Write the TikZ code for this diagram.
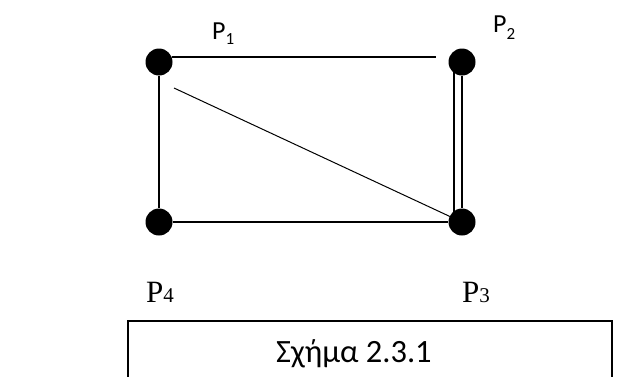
\documentclass[tikz,border=0pt]{standalone}
\usepackage{fontspec}
\setmainfont{Liberation Serif}
\newfontfamily\calibri{Carlito}
\begin{document}
\begin{tikzpicture}[x=1pt,y=-1pt,
  vertex/.style={circle,fill=black,inner sep=0pt,minimum size=27pt},
  edge/.style={line width=2pt},
  thinedge/.style={line width=1pt},
  sanslabel/.style={anchor=base west,inner sep=0pt,font=\calibri\fontsize{26}{28}\selectfont},
  seriflabel/.style={anchor=base west,inner sep=0pt,font=\fontsize{31}{33}\selectfont},
  framebox/.style={line width=1.2pt}]
\useasboundingbox (0,0) rectangle (640,376);
% vertices
\node[vertex] (p1) at (159,62) {};
\node[vertex] (p2) at (462,62) {};
\node[vertex] (p3) at (462,222) {};
\node[vertex] (p4) at (159,222) {};
% helper coordinates
\coordinate (topstart) at (172,57);
\coordinate (topend) at (436,57);
\coordinate (diagstart) at (174,88);
\coordinate (diagend) at (451,217);
\coordinate (dblA) at (453.5,72);
\coordinate (dblB) at (453.5,214);
% edges
\draw[edge] (topstart) -- (topend);
\draw[edge] (p1) -- (p4);
\draw[edge] (p4) -- (p3);
\draw[thinedge] (diagstart) -- (diagend);
\draw[edge] (p2) -- (p3);
\draw[edge] (dblA) -- (dblB);
% labels
\node[sanslabel] (l1) at (212,39) {P\raisebox{-5pt}{\fontsize{17}{17}\selectfont 1}};
\node[sanslabel] (l2) at (493,32) {P\raisebox{-7pt}{\fontsize{17}{17}\selectfont 2}};
\node[seriflabel] (l4) at (146,302) {P{\fontsize{21}{21}\selectfont 4}};
\node[seriflabel] (l3) at (462,302) {P{\fontsize{21}{21}\selectfont 3}};
% caption box
\coordinate (bl) at (128,380);
\coordinate (tl) at (128,321);
\coordinate (tr) at (612,321);
\coordinate (br) at (612,380);
\draw[framebox] (bl) -- (tl) -- (tr) -- (br);
\node[anchor=base west,inner sep=0pt,font=\calibri\fontsize{32.5}{35}\selectfont] (cap) at (276,362) {Σχήμα 2.3.1};
\end{tikzpicture}
\end{document}
